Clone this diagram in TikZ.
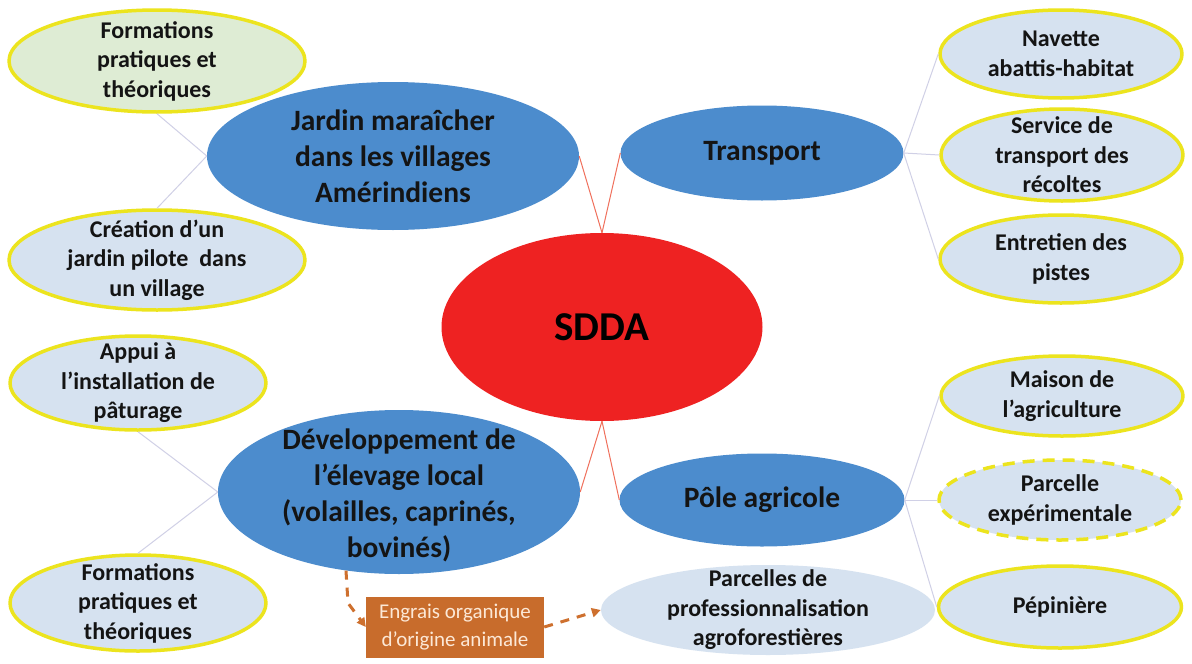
\documentclass[tikz,border=0pt]{standalone}
\usepackage{fontspec}
\setmainfont{Carlito}
\usetikzlibrary{arrows.meta,shapes.geometric,positioning}

\begin{document}
\begin{tikzpicture}[x=1pt, y=-1pt, >=Stealth, line join=round,
  bubble/.style={ellipse, inner sep=0pt, draw=ringyellow, line width=3.5pt, fill=leafblue},
  theme/.style={ellipse, inner sep=0pt, fill=themeblue},
  small/.style={align=center, font=\fontsize{24}{29.5}\selectfont\bfseries, text=inkblack},
  big/.style={align=center, font=\fontsize{29.5}{36}\selectfont\bfseries, text=inkblack},
  twig/.style={draw=twiggrey, line width=1pt},
  branch/.style={draw=branchred, line width=1pt},
  manure/.style={-{Triangle[length=9pt,width=9pt]}, draw=manureorange, line width=3pt,
    dash pattern=on 9pt off 8pt}]

% --- Colors ---
\definecolor{hubred}{RGB}{238,34,34}
\definecolor{themeblue}{RGB}{76,140,205}
\definecolor{leafblue}{RGB}{214,226,240}
\definecolor{leafgreen}{RGB}{222,236,212}
\definecolor{ringyellow}{RGB}{236,228,30}
\definecolor{branchred}{RGB}{240,112,92}
\definecolor{twiggrey}{RGB}{208,208,230}
\definecolor{manureorange}{RGB}{206,112,46}
\definecolor{boxorange}{RGB}{200,108,44}
\definecolor{creamtext}{RGB}{252,232,214}
\definecolor{inkblack}{RGB}{20,20,20}

% --- Canvas ---
\fill[white] (0,0) rectangle (1192,664);
\useasboundingbox (0,0) rectangle (1192,664);

% --- Hub ---
\node[theme, fill=hubred, minimum width=321pt, minimum height=188pt,
  label={[text=black, font=\fontsize{41}{49}\selectfont\bfseries]center:SDDA}] (sdda) at (602,327) {};

% --- Themes ---
\node[theme, minimum width=372pt, minimum height=148pt,
  label={[big]center:Jardin maraîcher\\dans les villages\\Amérindiens}] (jardin) at (393,156) {};
\node[theme, minimum width=283pt, minimum height=95pt,
  label={[big]center:Transport}] (transport) at (762,153) {};
\node[theme, minimum width=362pt, minimum height=164pt,
  label={[big, yshift=-3pt]center:Développement de\\l’élevage local\\(volailles, caprinés,\\bovinés)}] (dev) at (399,492) {};
\node[theme, minimum width=285pt, minimum height=93pt,
  label={[big]center:Pôle agricole}] (pole) at (762,500) {};

% --- Left leaves ---
\node[bubble, fill=leafgreen, minimum width=296pt, minimum height=102pt,
  label={[small]center:Formations\\pratiques et\\théoriques}] (form1) at (157,61) {};
\node[bubble, minimum width=296pt, minimum height=100pt,
  label={[small]center:Création d’un\\jardin pilote\ \ dans\\un village}] (creation) at (157,260) {};
\node[bubble, minimum width=256pt, minimum height=94pt,
  label={[small]center:Appui à\\l’installation de\\pâturage}] (appui) at (138,383) {};
\node[bubble, minimum width=256pt, minimum height=96pt,
  label={[small]center:Formations\\pratiques et\\théoriques}] (form2) at (138,603) {};

% --- Right leaves ---
\node[bubble, minimum width=242pt, minimum height=88pt,
  label={[small]center:Navette\\abattis-habitat}] (navette) at (1061,54) {};
\node[bubble, minimum width=242pt, minimum height=92pt,
  label={[small]center:Service de\\transport des\\récoltes}] (service) at (1062,155) {};
\node[bubble, minimum width=242pt, minimum height=88pt,
  label={[small]center:Entretien des\\pistes}] (entretien) at (1061,259) {};
\node[bubble, minimum width=242pt, minimum height=80pt,
  label={[small]center:Maison de\\l’agriculture}] (maison) at (1062,396) {};
\node[bubble, dash pattern=on 12pt off 8pt, minimum width=242pt, minimum height=80pt,
  label={[small]center:Parcelle\\expérimentale}] (parcelle) at (1060,500) {};
\node[bubble, minimum width=243pt, minimum height=82pt,
  label={[small]center:Pépinière}] (pepiniere) at (1060,607) {};

% --- Bottom chain ---
\node[theme, fill=leafblue, minimum width=334pt, minimum height=90pt,
  label={[small]center:Parcelles de\\professionnalisation\\agroforestières}] (prof) at (768,610) {};
\node[rectangle, fill=boxorange, minimum width=178pt, minimum height=61pt, inner sep=0pt,
  align=center, text=creamtext, font=\fontsize{21}{28}\selectfont] (engrais) at (455,627)
  {Engrais organique\\d’origine animale};

% --- Branches ---
\draw[branch] (sdda.north) -- (jardin.east);
\draw[branch] (sdda.north) -- (transport.west);
\draw[branch] (sdda.south) -- (dev.east);
\draw[branch] (sdda.south) -- (pole.west);

% --- Twigs ---
\draw[twig] (jardin.west) -- (form1.south);
\draw[twig] (jardin.west) -- (creation.north);
\draw[twig] (dev.west) -- (appui.south);
\draw[twig] (dev.west) -- (form2.north);
\draw[twig] (transport.east) -- (navette.west);
\draw[twig] (transport.east) -- (service.west);
\draw[twig] (transport.east) -- (entretien.west);
\draw[twig] (pole.east) -- (maison.west);
\draw[twig] (pole.east) -- (parcelle.west);
\draw[twig] (pole.east) -- (pepiniere.west);

% --- Manure flow ---
\coordinate (bend) at (348,603);
\draw[manure] (dev.236) -- (bend) -- (engrais.west);
\draw[manure] (engrais.east) -- (prof.west);

\end{tikzpicture}
\end{document}
